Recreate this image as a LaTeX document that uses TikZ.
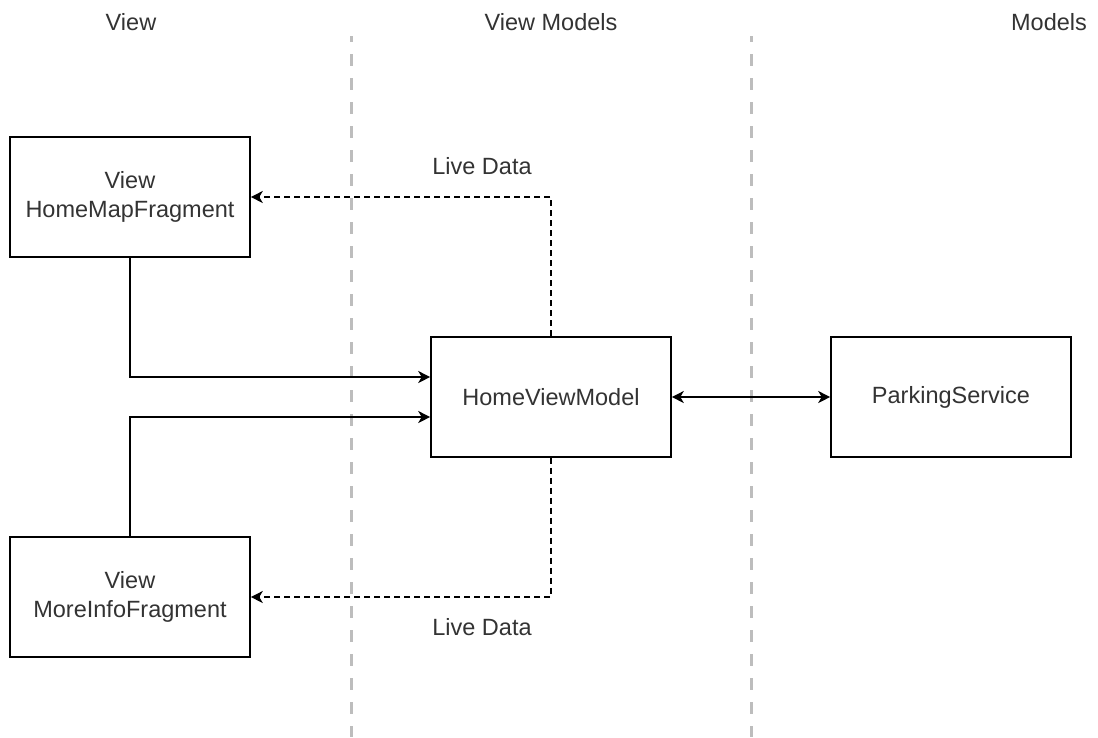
\documentclass[tikz,border=0pt]{standalone}
\usepackage{fontspec}
\setmainfont{Liberation Sans}
\usetikzlibrary{arrows.meta}
\definecolor{txt}{HTML}{333333}
\definecolor{lane}{HTML}{BDBDBD}
\begin{document}
\begin{tikzpicture}[x=1pt,y=-1pt,
  font=\fontsize{23.5}{28.8}\selectfont,
  box/.style={draw=black,line width=1.6pt,fill=white,minimum width=240pt,minimum height=120pt,inner sep=0pt,align=center,text=txt},
  lbl/.style={text=txt,inner sep=0pt},
  arr/.style={line width=1.6pt,-{Stealth[length=12pt,width=12pt,inset=3.5pt]}},
  darr/.style={arr,dash pattern=on 6pt off 4pt},
  both/.style={line width=1.6pt,{Stealth[length=12pt,width=12pt,inset=3.5pt]}-{Stealth[length=12pt,width=12pt,inset=3.5pt]}},
  lanestyle/.style={draw=lane,line width=3pt,dash pattern=on 12pt off 12pt,dash phase=6pt}]
\useasboundingbox[fill=white] (0,0) rectangle (1098,737);
% lane separators
\draw[lanestyle] (351,36) -- (351,737);
\draw[lanestyle] (751.5,36) -- (751.5,737);
% headers
\node[lbl] (hView) at (131,22) {View};
\node[lbl] (hVM) at (551,22) {View Models};
\node[lbl] (hM) at (1049,22) {Models};
% boxes
\node[box] (hmf) at (130,197) {View\\HomeMapFragment};
\node[box] (mif) at (130,597) {View\\MoreInfoFragment};
\node[box] (hvm) at (551,397) {HomeViewModel};
\node[box] (ps) at (951,397) {ParkingService};
% labels
\node[lbl] (ld1) at (482,166) {Live Data};
\node[lbl] (ld2) at (482,627) {Live Data};
% connectors
\draw[arr] (hmf.south) |- ([yshift=20pt]hvm.west);
\draw[arr] (mif.north) |- ([yshift=-20pt]hvm.west);
\draw[darr] (hvm.north) |- (hmf.east);
\draw[darr] (hvm.south) |- (mif.east);
\draw[both] (hvm.east) -- (ps.west);
\end{tikzpicture}
\end{document}
